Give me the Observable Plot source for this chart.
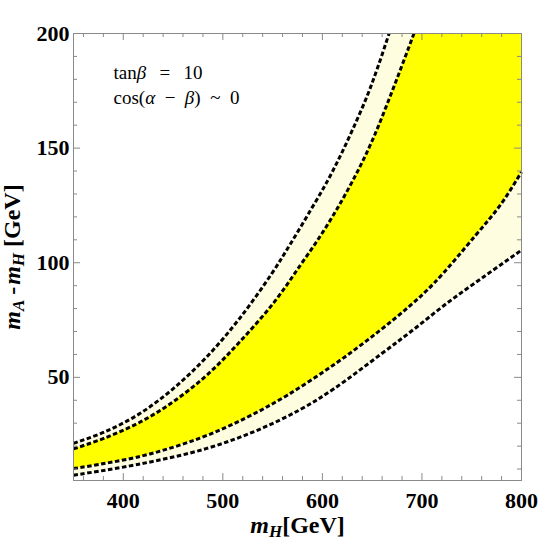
<!DOCTYPE html>
<html><head><meta charset="utf-8">
<script src="https://cdn.jsdelivr.net/npm/d3@7"></script>
<script src="https://cdn.jsdelivr.net/npm/@observablehq/plot@0.6"></script>
<style>body{margin:0;background:#fff} svg{display:block}</style>
</head><body><div id="chart"></div>
<script>
// ---- data ----
// outer upper boundary (dotted)
const outerUpperX = [350, 383, 417, 450, 484, 517, 549.5, 568, 588, 605, 618, 631.5, 645, 655, 667];
const outerUpperY = [21.2, 26.5, 34.3, 45.0, 59.0, 75.8, 95.5, 108.3, 122.8, 135.6, 146.6, 159.2, 172.8, 184.5, 200];
// inner upper boundary (dotted)
const innerUpperX = [350, 383, 417, 450, 484, 517, 551, 578, 601.4, 621.6, 638.4, 651.8, 665.3, 678.6, 692];
const innerUpperY = [18.8, 23.8, 30.5, 39.3, 51.0, 65.5, 82.5, 99.0, 114.0, 128.7, 142.5, 155.0, 169.5, 184.5, 200];
// inner lower boundary (dotted)
const innerLowerX = [350, 417, 477, 524, 564, 611.5, 655, 688.7, 712, 754, 779.3, 800];
const innerLowerY = [10.2, 15.5, 23.5, 32.5, 42.0, 55.5, 69.5, 81.5, 91.0, 112.0, 125.5, 139.6];
// outer lower boundary (dotted)
const outerLowerX = [350, 417, 484, 534, 578, 611.5, 658.5, 692, 725.6, 762.5, 800];
const outerLowerY = [7.3, 12.2, 19.0, 26.8, 36.0, 45.0, 60.0, 71.0, 82.5, 94.0, 105.5];

const xMajorTicks = [400, 500, 600, 700, 800];
const xMinorTicks = [360, 380, 420, 440, 460, 480, 520, 540, 560, 580, 620, 640, 660, 680, 720, 740, 760, 780];
const yMajorTicks = [50, 100, 150, 200];
const yMinorTicks = [10, 20, 30, 40, 60, 70, 80, 90, 110, 120, 130, 140, 160, 170, 180, 190];
const annotationLines = ["tanβ\u2002\u2009=\u2002\u200910", "cos(α\u2002−\u2002β)\u2002~\u20020"];
const xTitleParts = [{t: "m", i: true}, {t: "H", i: true, sub: true}, {t: "[GeV]"}];
const yTitleParts = [{t: "m", i: true}, {t: "A", i: true, sub: true}, {t: "\u2009-\u200a"}, {t: "m", i: true}, {t: "H", i: true, sub: true}, {t: " [GeV]"}];

// ---- derived tables ----
const pts = (X, Y) => X.map((x, k) => ({x, y: Y[k]}));
const outerUpper = pts(outerUpperX, outerUpperY);
const innerUpper = pts(innerUpperX, innerUpperY);
const innerLower = pts(innerLowerX, innerLowerY);
const outerLower = pts(outerLowerX, outerLowerY);
const xMax = 800, yMax = 200;
const lightPoly = [...outerLower, {x: xMax, y: yMax}, ...outerUpper.slice().reverse()];
const brightPoly = [...innerLower, {x: xMax, y: yMax}, ...innerUpper.slice().reverse()];

const W = 542, H = 544, mL = 73, mR = 21, mT = 33, mB = 64;
const fw = W - mL - mR, fh = H - mT - mB;
const serif = "'Liberation Serif', 'Times New Roman', serif";
const grey = "#8a8a8a";
const dotted = {stroke: "black", strokeWidth: 3, strokeDasharray: "4.5,2.5", strokeLinecap: "butt", curve: "catmull-rom"};

const chart = Plot.plot({
  width: W, height: H,
  marginLeft: mL, marginRight: mR, marginTop: mT, marginBottom: mB,
  style: {fontFamily: serif, background: "white"},
  x: {domain: [350, 800]},
  y: {domain: [5, 200]},
  marks: [
    Plot.line(lightPoly, {x: "x", y: "y", fill: "#fffde0", stroke: "none", clip: true}),
    Plot.line(brightPoly, {x: "x", y: "y", fill: "#ffff00", stroke: "none", clip: true}),
    Plot.line(outerUpper, {x: "x", y: "y", ...dotted}),
    Plot.line(innerUpper, {x: "x", y: "y", ...dotted}),
    Plot.line(innerLower, {x: "x", y: "y", ...dotted}),
    Plot.line(outerLower, {x: "x", y: "y", ...dotted}),
    // ticks pointing inward on all four sides
    Plot.tickX(xMajorTicks, {x: d => d, insetTop: fh - 7, stroke: grey}),
    Plot.tickX(xMajorTicks, {x: d => d, insetBottom: fh - 7, stroke: grey}),
    Plot.tickX(xMinorTicks, {x: d => d, insetTop: fh - 4, stroke: grey}),
    Plot.tickX(xMinorTicks, {x: d => d, insetBottom: fh - 4, stroke: grey}),
    Plot.tickY(yMajorTicks, {y: d => d, insetRight: fw - 7, stroke: grey}),
    Plot.tickY(yMajorTicks, {y: d => d, insetLeft: fw - 7, stroke: grey}),
    Plot.tickY(yMinorTicks, {y: d => d, insetRight: fw - 4, stroke: grey}),
    Plot.tickY(yMinorTicks, {y: d => d, insetLeft: fw - 4, stroke: grey}),
    Plot.frame({stroke: grey, strokeWidth: 1}),
    Plot.axisX({ticks: xMajorTicks, tickSize: 0, tickPadding: 12, label: null, fontSize: 22, fontWeight: "bold", fontFamily: serif, fill: "black"}),
    Plot.axisY({ticks: yMajorTicks, tickSize: 0, tickPadding: 4, label: null, fontSize: 22, fontWeight: "bold", fontFamily: serif, fill: "black"}),
    Plot.text([annotationLines.join("\n")], {frameAnchor: "top-left", text: d => d, dx: 40, dy: 70, textAnchor: "start", lineAnchor: "bottom", lineHeight: 25 / 19, fontSize: 19, fontFamily: serif, fill: "black"}),
    Plot.text(["XTITLE"], {frameAnchor: "bottom", text: d => d, dy: 52, textAnchor: "middle", lineAnchor: "bottom", fontSize: 24, fontWeight: "bold", fontFamily: serif, fill: "black"}),
    Plot.text(["YTITLE"], {frameAnchor: "left", text: d => d, dx: -54, dy: 0, rotate: -90, textAnchor: "middle", lineAnchor: "bottom", fontSize: 24, fontWeight: "bold", fontFamily: serif, fill: "black"})
  ]
});
document.getElementById("chart").appendChild(chart);

// ---- rich text (italics, subscripts) ----
const NS = "http://www.w3.org/2000/svg";
function rich(el, parts) {
  el.textContent = "";
  el.setAttribute("xml:space", "preserve");
  el.style.whiteSpace = "pre";
  let shifted = false;
  for (const p of parts) {
    const ts = document.createElementNS(NS, "tspan");
    ts.textContent = p.t;
    if (p.i) ts.setAttribute("font-style", "italic");
    if (p.sub) { ts.setAttribute("font-size", "17"); ts.setAttribute("dy", "4"); shifted = true; }
    else if (shifted) { ts.setAttribute("dy", "-4"); shifted = false; }
    el.appendChild(ts);
  }
}
for (const t of chart.querySelectorAll("text")) {
  if (t.textContent === "XTITLE") rich(t, xTitleParts);
  else if (t.textContent === "YTITLE") rich(t, yTitleParts);
}
for (const ts of chart.querySelectorAll("tspan")) {
  const s = ts.textContent;
  if (!/[αβ]/.test(s) || ts.children.length) continue;
  ts.textContent = "";
  for (const piece of s.split(/([αβ])/)) {
    if (!piece) continue;
    const sp = document.createElementNS(NS, "tspan");
    sp.textContent = piece;
    if (/[αβ]/.test(piece)) sp.setAttribute("font-style", "italic");
    ts.appendChild(sp);
  }
}
</script>
</body></html>
